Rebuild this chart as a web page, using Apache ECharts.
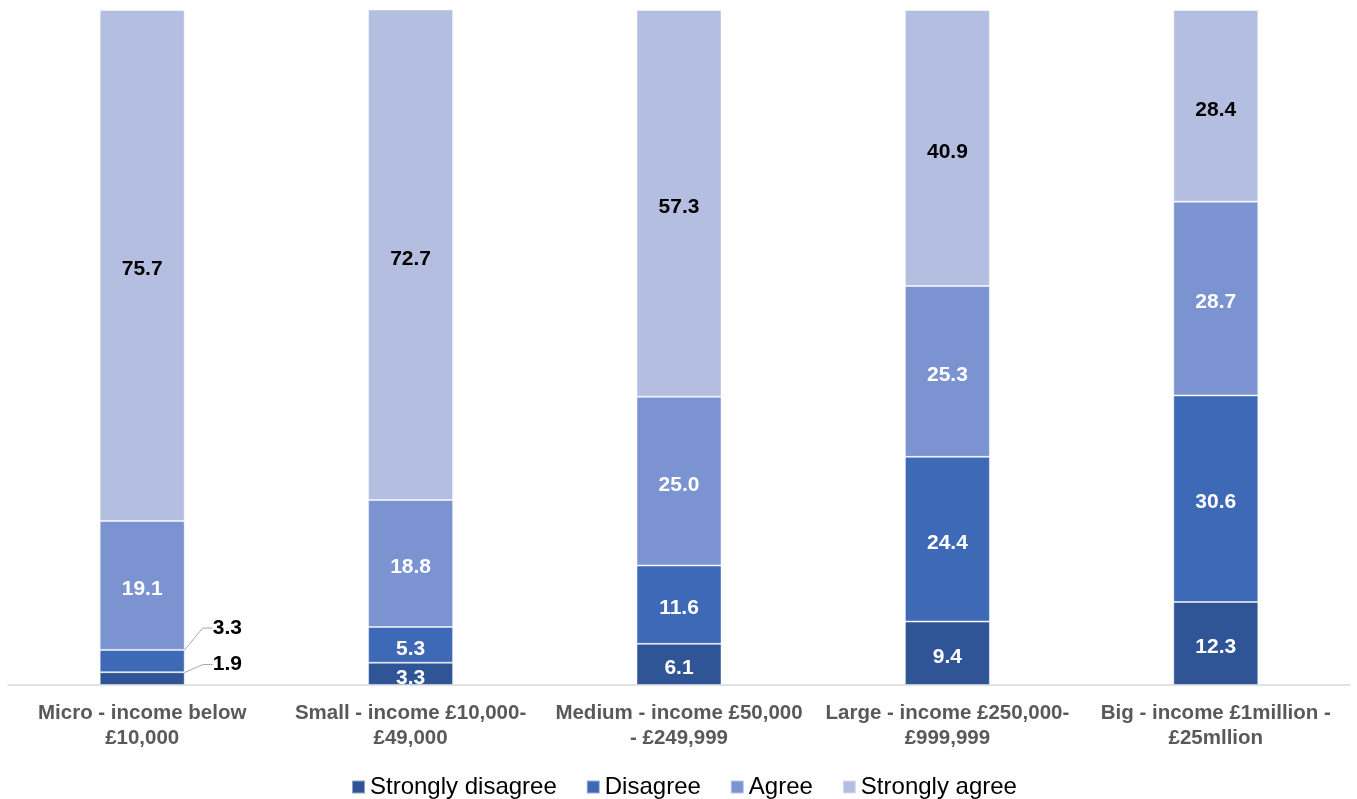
<!DOCTYPE html>
<html>
<head>
<meta charset="utf-8">
<script src="https://cdn.jsdelivr.net/npm/echarts@6/dist/echarts.min.js"></script>
<style>
  html, body { margin: 0; padding: 0; background: #fff; }
  #chart { width: 1357px; height: 799px; }
</style>
</head>
<body>
<div id="chart"></div>
<script>
// Income bands (x axis)
const categories = [
  'Micro - income below\n£10,000',
  'Small - income £10,000-\n£49,000',
  'Medium - income £50,000\n- £249,999',
  'Large - income £250,000-\n£999,999',
  'Big - income £1million -\n£25mllion'
];

// Response shares (%) per band
const stronglyDisagree = [1.9, 3.3, 6.1, 9.4, 12.3];
const disagree = [3.3, 5.3, 11.6, 24.4, 30.6];
const agree = [19.1, 18.8, 25.0, 25.3, 28.7];
const stronglyAgree = [75.7, 72.7, 57.3, 40.9, 28.4];

const seriesNames = ['Strongly disagree', 'Disagree', 'Agree', 'Strongly agree'];
const colors = ['#2F5597', '#3E69B6', '#7B93D0', '#B4BEE0'];

const FONT = 'Liberation Sans, Arial, sans-serif';
const LABEL_NUDGE = 4; // inside labels sit slightly below the segment centre

// The Micro band's two thin bottom segments carry their labels outside the bar,
// lifted upward and joined to the bar with a leader line.
const liftByIndex = { 0: -14, 1: -33 };

function makeSeries(name, values, color, textColor, idx) {
  const data = values.map((v, i) => {
    if (i === 0 && idx in liftByIndex) {
      return {
        value: v,
        label: { position: 'right', color: '#000', distance: 28 },
        labelLine: { show: true, length2: 10, lineStyle: { color: '#a6a6a6', width: 1 } }
      };
    }
    return v;
  });
  return {
    name: name,
    type: 'bar',
    stack: 'total',
    barWidth: 85,
    data: data,
    itemStyle: { color: color, borderColor: 'rgba(255,255,255,0.45)', borderWidth: 1 },
    label: {
      show: true,
      position: 'inside',
      color: textColor,
      fontFamily: FONT,
      fontWeight: 'bold',
      fontSize: 21,
      formatter: p => Number(p.value).toFixed(1)
    },
    labelLayout: p => ({
      dy: (p.dataIndex === 0 && idx in liftByIndex) ? liftByIndex[idx] : LABEL_NUDGE
    }),
    emphasis: { disabled: true }
  };
}

const chart = echarts.init(document.getElementById('chart'), null, { renderer: 'canvas' });
chart.setOption({
  animation: false,
  color: colors,
  grid: { left: 8, right: 7, top: 10, bottom: 114, containLabel: false },
  legend: {
    bottom: -5,
    left: 346,
    itemWidth: 13,
    itemHeight: 13,
    itemGap: 29,
    icon: 'rect',
    textStyle: { fontFamily: FONT, fontSize: 24, color: '#000' },
    data: seriesNames
  },
  xAxis: {
    type: 'category',
    data: categories,
    axisLine: { show: true, lineStyle: { color: '#D9D9D9', width: 1.5 } },
    axisTick: { show: false },
    axisLabel: {
      interval: 0,
      margin: 16,
      color: '#595959',
      fontFamily: FONT,
      fontWeight: 'bold',
      fontSize: 20.5,
      lineHeight: 25
    }
  },
  yAxis: {
    type: 'value',
    min: 0,
    max: 100,
    show: false,
    splitLine: { show: false }
  },
  series: [
    makeSeries(seriesNames[0], stronglyDisagree, colors[0], '#fff', 0),
    makeSeries(seriesNames[1], disagree, colors[1], '#fff', 1),
    makeSeries(seriesNames[2], agree, colors[2], '#fff', 2),
    makeSeries(seriesNames[3], stronglyAgree, colors[3], '#000', 3)
  ]
});
</script>
</body>
</html>
